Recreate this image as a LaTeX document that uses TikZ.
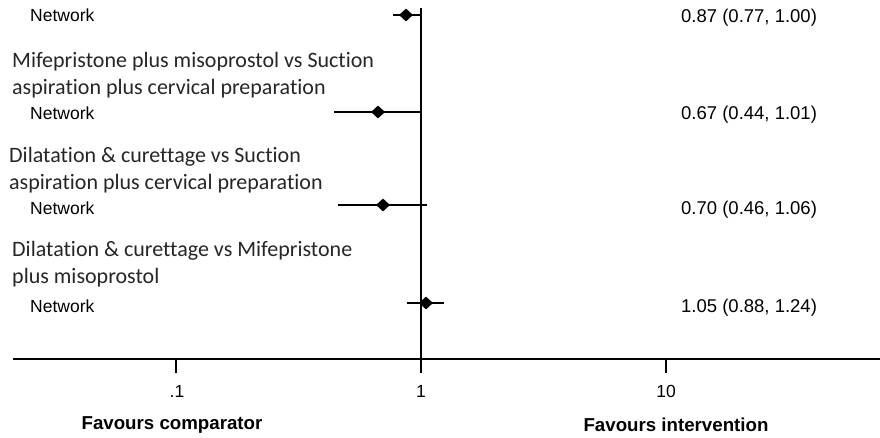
\documentclass[tikz,border=0pt]{standalone}
\usepackage{fontspec}
\setmainfont{Liberation Sans}
\newfontfamily\headfont[Ligatures={NoCommon,NoRare,NoDiscretionary}]{Carlito}
\usetikzlibrary{shapes.geometric}
\begin{document}
\begin{tikzpicture}[x=1pt,y=-1pt,
  lbl/.style={inner sep=0pt,font=\fontsize{17.5}{20}\selectfont},
  heading/.style={inner sep=0pt,align=left,text=black!85,
    font=\headfont\fontsize{22}{27}\selectfont},
  estimate/.style={inner sep=0pt,anchor=base west,font=\fontsize{18.5}{20}\selectfont},
  favours/.style={inner sep=0pt,font=\bfseries\fontsize{18.7}{22}\selectfont},
  ci/.style={line width=2.4pt},
  est/.style={diamond,fill=black,inner sep=0pt,minimum width=14pt,minimum height=13pt},
  axisline/.style={line width=1.7pt}]
\useasboundingbox (0,0) rectangle (880,438);

% log scale: 245 units per decade, 1 at x=421
\coordinate (top) at (421,8);
\coordinate (bot) at (421,373);
\coordinate (axL) at (13,359);
\coordinate (axR) at (880,359);
\draw[axisline] (top) -- (bot);
\draw[axisline] (axL) -- (axR);

% ticks and tick labels
\coordinate (t1a) at (176,359); \coordinate (t1b) at (176,373);
\coordinate (t3a) at (666,359); \coordinate (t3b) at (666,373);
\draw[axisline] (t1a) -- (t1b);
\draw[axisline] (t3a) -- (t3b);
\node[lbl] (tk1) at (177,391) {.1};
\node[lbl] (tk2) at (421,391) {1};
\node[lbl] (tk3) at (666,391) {10};

\node[favours] (favc) at (172,425) {Favours comparator};
\node[favours] (favi) at (676,425) {Favours intervention};

% comparison headings (base anchor sits on the last line)
\node[heading,anchor=base west] (h2) at (12,95)
  {Mifepristone plus misoprostol vs Suction\\aspiration plus cervical preparation};
\node[heading,anchor=base west] (h3) at (9,190)
  {Dilatation \& curettage vs Suction\\aspiration plus cervical preparation};
\node[heading,anchor=base west] (h4) at (12,283)
  {Dilatation \& curettage vs Mifepristone\\plus misoprostol};

% row labels
\node[lbl,anchor=base west] (n1) at (30,22) {Network};
\node[lbl,anchor=base west] (n2) at (30,120) {Network};
\node[lbl,anchor=base west] (n3) at (30,215) {Network};
\node[lbl,anchor=base west] (n4) at (30,312) {Network};

% estimates with 95% intervals
\coordinate (l1) at (393,15);  \coordinate (r1) at (421,15);
\node[est] (d1) at (406,15) {};
\coordinate (l2) at (334,112); \coordinate (r2) at (422,112);
\node[est] (d2) at (378,112) {};
\coordinate (l3) at (338,205); \coordinate (r3) at (427,205);
\node[est] (d3) at (383,205) {};
\coordinate (l4) at (407,303); \coordinate (r4) at (444,303);
\node[est] (d4) at (426,303) {};
\draw[ci] (l1) -- (r1);
\draw[ci] (l2) -- (r2);
\draw[ci] (l3) -- (r3);
\draw[ci] (l4) -- (r4);

\node[estimate] (e1) at (681,23) {0.87 (0.77, 1.00)};
\node[estimate] (e2) at (681,120) {0.67 (0.44, 1.01)};
\node[estimate] (e3) at (681,215) {0.70 (0.46, 1.06)};
\node[estimate] (e4) at (681,312) {1.05 (0.88, 1.24)};
\end{tikzpicture}
\end{document}
